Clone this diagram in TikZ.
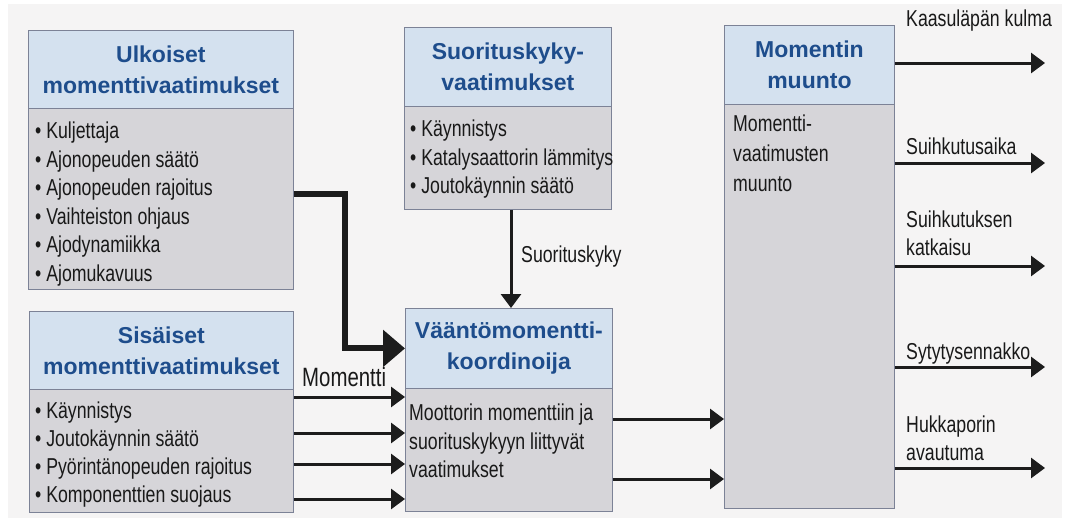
\documentclass[tikz,border=0pt]{standalone}
\usepackage{fontspec}
\setmainfont{Liberation Sans}
\newfontfamily\nar[FakeStretch=0.77]{Liberation Sans}
\usetikzlibrary{arrows.meta,calc}
\definecolor{bgc}{HTML}{F5F4F4}
\definecolor{hdrc}{HTML}{D4E1EF}
\definecolor{bdyc}{HTML}{D6D5D9}
\definecolor{titc}{HTML}{1E4D8C}
\definecolor{bordc}{HTML}{7C8296}
\definecolor{arrc}{HTML}{1C1C1C}
\begin{document}
\begin{tikzpicture}[x=1pt,y=-1pt,
  hdr/.style={draw=bordc, fill=hdrc, line width=0.8pt, anchor=north west, inner sep=0pt, align=center, text=titc, font=\bfseries\fontsize{23}{31}\selectfont},
  bdy/.style={draw=bordc, fill=bdyc, line width=0.8pt, anchor=north west, inner sep=0pt},
  txt/.style={anchor=north west, align=left, inner sep=0pt, text=black!90, font=\nar\fontsize{23}{28.5}\selectfont},
  lbl/.style={anchor=north west, align=left, inner sep=0pt, text=black!90, font=\nar\fontsize{23}{28}\selectfont},
  arr/.style={draw=arrc, line width=3pt, -{Triangle[length=14pt,width=20pt]}},
  thk/.style={draw=arrc, line width=6pt, -{Triangle[length=22pt,width=36pt]}}]
\useasboundingbox (0,0) rectangle (1067,522);
\fill[white] (0,0) rectangle (1067,522);
\fill[bgc] (8,4) rectangle (1062,518);

% Box 1
\node[bdy, minimum width=265pt, minimum height=181pt] (b1b) at (28,108) {};
\node[hdr, minimum width=265pt, minimum height=78pt] (b1h) at (28,30) {Ulkoiset\\momenttivaatimukset};
\node[txt] (b1t) at (35,122) {• Kuljettaja\\• Ajonopeuden säätö\\• Ajonopeuden rajoitus\\• Vaihteiston ohjaus\\• Ajodynamiikka\\• Ajomukavuus};

% Box 2
\node[bdy, minimum width=264pt, minimum height=123pt] (b2b) at (29,389) {};
\node[hdr, minimum width=264pt, minimum height=78pt] (b2h) at (29,311) {Sisäiset\\momenttivaatimukset};
\node[txt, font=\nar\fontsize{23}{28}\selectfont] (b2t) at (35,402) {• Käynnistys\\• Joutokäynnin säätö\\• Pyörintänopeuden rajoitus\\• Komponenttien suojaus};

% Box 3
\node[bdy, minimum width=207pt, minimum height=103pt] (b3b) at (404,106) {};
\node[hdr, minimum width=207pt, minimum height=79pt] (b3h) at (404,27) {Suorituskyky-\\vaatimukset};
\node[txt] (b3t) at (410,120) {• Käynnistys\\• Katalysaattorin lämmitys\\• Joutokäynnin säätö};

% Box 4
\node[bdy, minimum width=207pt, minimum height=123pt] (b4b) at (405,388) {};
\node[hdr, minimum width=207pt, minimum height=80pt] (b4h) at (405,308) {Vääntömomentti-\\koordinoija};
\node[txt] (b4t) at (409,404) {Moottorin momenttiin ja\\suorituskykyyn liittyvät\\vaatimukset};

% Box 5
\node[bdy, minimum width=170pt, minimum height=404pt] (b5b) at (724,104) {};
\node[hdr, minimum width=170pt, minimum height=79pt] (b5h) at (724,25) {Momentin\\muunto};
\node[txt, font=\nar\fontsize{23}{30}\selectfont] (b5t) at (733,115) {Momentti-\\vaatimusten\\muunto};

% thick arrow
\coordinate (k1) at (345,194);
\draw[thk] (b1b.east |- k1) -- (k1) |- (b4h.west);

% Suorituskyky arrow
\coordinate (s1) at (511,0);
\draw[arr] (b3b.south -| s1) -- (b4h.north -| s1);
\node[lbl] (ls) at (521,246) {Suorituskyky};

% Momentti arrows
\foreach \y/\n in {397/m1,433/m2,464/m3,499/m4}{
  \coordinate (\n) at (0,\y);
  \draw[arr] (b2b.east |- \n) -- (b4b.west |- \n);
}
\node[lbl, font=\nar\fontsize{26.5}{28}\selectfont] (lm) at (302,367) {Momentti};

% to box 5
\foreach \y/\n in {419/c1,479/c2}{
  \coordinate (\n) at (0,\y);
  \draw[arr] (b4b.east |- \n) -- (b5b.west |- \n);
}

% outputs
\foreach \y/\n in {63/o1,163/o2,266/o3,367/o4,468/o5}{
  \coordinate (\n) at (1045,\y);
  \draw[arr] (b5b.east |- \n) -- (\n);
}
\node[lbl] (l1) at (906,10) {Kaasuläpän kulma};
\node[lbl] (l2) at (906,138) {Suihkutusaika};
\node[lbl] (l3) at (906,211) {Suihkutuksen\\katkaisu};
\node[lbl] (l4) at (906,343) {Sytytysennakko};
\node[lbl] (l5) at (906,416) {Hukkaporin\\avautuma};
\end{tikzpicture}
\end{document}
